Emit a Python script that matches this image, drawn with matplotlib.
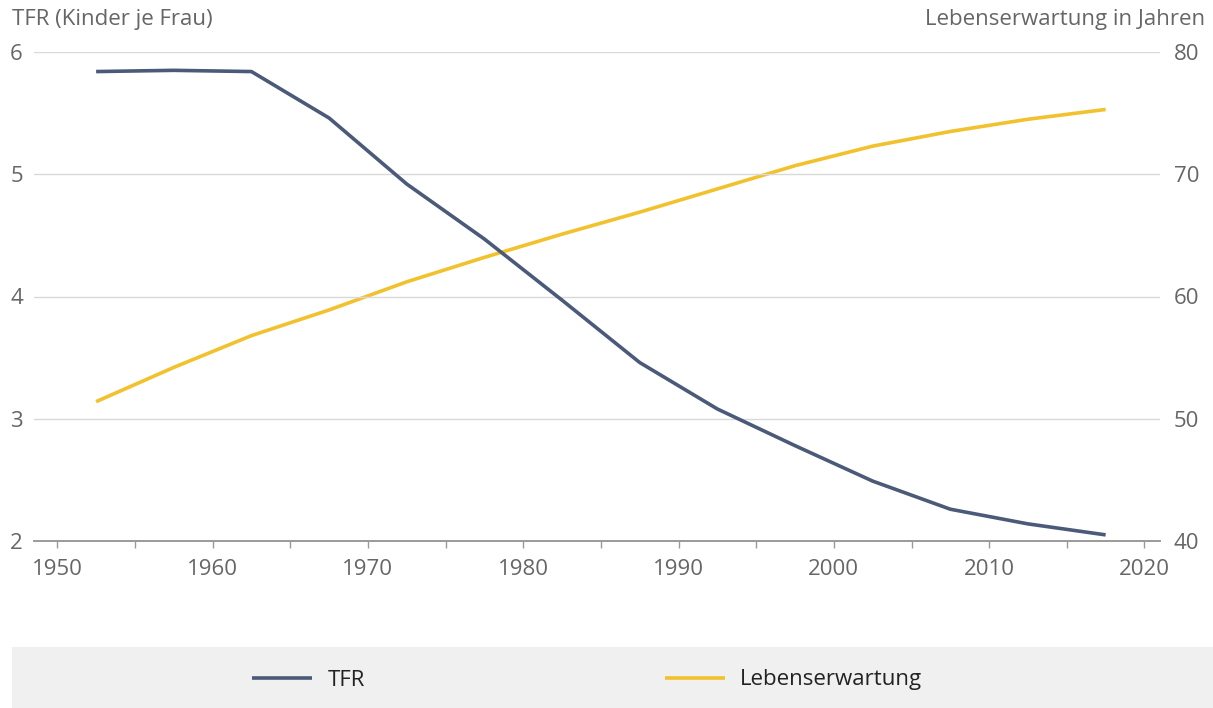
import numpy as np
import matplotlib as mpl
mpl.use("Agg")
import matplotlib.pyplot as plt
from matplotlib.patches import Rectangle

plt.rcParams['font.family'] = ['Open Sans', 'DejaVu Sans']

years = [1952.5, 1957.5, 1962.5, 1967.5, 1972.5, 1977.5, 1982.5,
         1987.5, 1992.5, 1997.5, 2002.5, 2007.5, 2012.5, 2017.5]
tfr = [5.84, 5.85, 5.84, 5.46, 4.92, 4.47, 3.97,
       3.46, 3.08, 2.78, 2.49, 2.26, 2.14, 2.05]
lebenserwartung = [51.4, 54.2, 56.8, 58.9, 61.2, 63.2, 65.1,
                   66.9, 68.8, 70.7, 72.3, 73.5, 74.5, 75.3]

c_tfr = '#4a5a78'
c_le = '#f2c12e'
grey = '#666666'

fig = plt.figure(figsize=(12.13, 7.08), dpi=100)
ax = fig.add_axes([34/1213, 1 - 541/708, (1160 - 34)/1213, (541 - 52)/708])
ax2 = ax.twinx()

ax.set_zorder(ax2.get_zorder() + 1)
ax.patch.set_visible(False)

l1, = ax.plot(years, tfr, color=c_tfr, lw=2.6, solid_capstyle='butt', label='TFR')
l2, = ax2.plot(years, lebenserwartung, color=c_le, lw=2.6, solid_capstyle='butt',
               label='Lebenserwartung')

ax.set_xlim(1948.5, 2021)
ax.set_ylim(2, 6)
ax2.set_ylim(40, 80)
ax.set_yticks([2, 3, 4, 5, 6])
ax2.set_yticks([40, 50, 60, 70, 80])
ax.set_xticks(np.arange(1950, 2021, 10))
ax.set_xticks(np.arange(1955, 2020, 10), minor=True)

for a in (ax, ax2):
    for s in ('top', 'left', 'right'):
        a.spines[s].set_visible(False)
    a.spines['bottom'].set_color('#999999')
    a.spines['bottom'].set_linewidth(1.2)

ax.yaxis.grid(True, color='#d9d9d9', lw=1)
ax.set_axisbelow(True)
ax.tick_params(axis='y', length=0, labelsize=16, labelcolor=grey, pad=8)
ax2.tick_params(axis='y', length=0, labelsize=16, labelcolor=grey, pad=10)
ax.tick_params(axis='x', which='both', direction='out', length=5, width=1,
               color='#999999', labelsize=16, labelcolor=grey, pad=8)

fig.text(12/1213, 1 - 20/708, 'TFR (Kinder je Frau)', fontsize=16, color=grey,
         ha='left', va='center')
fig.text(1205/1213, 1 - 20/708, 'Lebenserwartung in Jahren', fontsize=16, color=grey,
         ha='right', va='center')

fig.patches.append(Rectangle((12/1213, 0), 1 - 12/1213, 61/708, transform=fig.transFigure,
                             facecolor='#f0f0f0', edgecolor='none', zorder=0))
fig.legend(handles=[l1, l2], loc='center', bbox_to_anchor=(0.484, 1 - 680/708),
           ncol=2, frameon=False, fontsize=16, handlelength=2.7,
           columnspacing=13.5, handletextpad=0.7, labelcolor='#222222')

fig.savefig('out.png', dpi=100)
